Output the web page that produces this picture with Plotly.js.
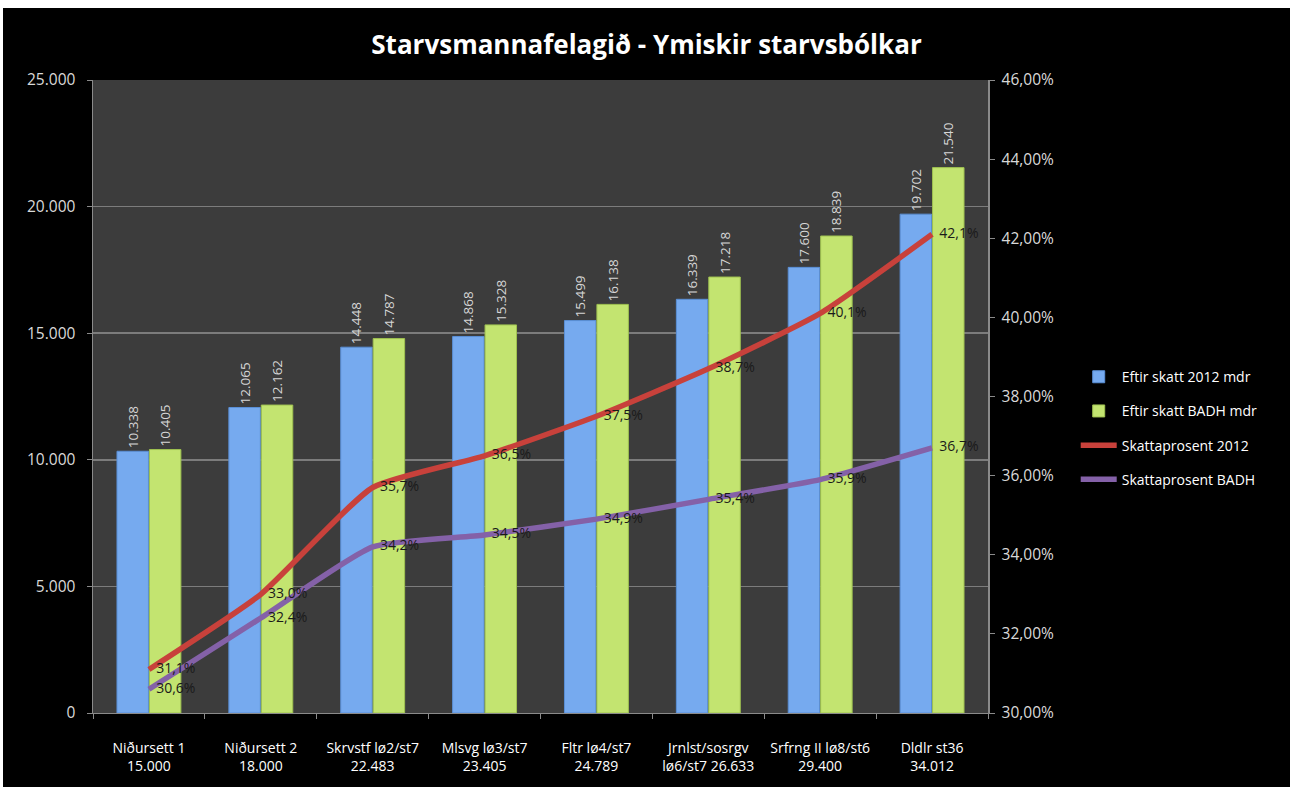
<!DOCTYPE html>
<html>
<head>
<meta charset="utf-8">
<script src="https://cdn.plot.ly/plotly-3.0.1.min.js"></script>
<style>
html,body{margin:0;padding:0;background:#ffffff;overflow:hidden;}
#chart{position:absolute;left:3px;top:8px;width:1287px;height:779px;background:#000;}
</style>
</head>
<body>
<div id="chart"></div>
<script>
var categories = [
  "Niðursett 1<br>15.000",
  "Niðursett 2<br>18.000",
  "Skrvstf lø2/st7<br>22.483",
  "Mlsvg lø3/st7<br>23.405",
  "Fltr lø4/st7<br>24.789",
  "Jrnlst/sosrgv<br>lø6/st7 26.633",
  "Srfrng II lø8/st6<br>29.400",
  "Dldlr st36<br>34.012"
];
var eftirSkatt2012 = [10338, 12065, 14448, 14868, 15499, 16339, 17600, 19702];
var eftirSkattBADH = [10405, 12162, 14787, 15328, 16138, 17218, 18839, 21540];
var skattaprosent2012 = [0.311, 0.330, 0.357, 0.365, 0.375, 0.387, 0.401, 0.421];
var skattaprosentBADH = [0.306, 0.324, 0.342, 0.345, 0.349, 0.354, 0.359, 0.367];

var fontFam = "Open Sans, Noto Sans, sans-serif";

function lineLabels(vals, grp) {
  return {
    type: "scatter", mode: "text", x: categories, y: vals, yaxis: "y2",
    showlegend: false, legendgroup: grp, hoverinfo: "skip",
    texttemplate: "\u00a0\u00a0%{y:.1%}", textposition: "middle right", cliponaxis: false,
    textfont: {color: "#1a1a1a", size: 14, family: fontFam}
  };
}

var traces = [
  {
    type: "bar", name: "Eftir skatt 2012 mdr", x: categories, y: eftirSkatt2012,
    legendgroup: "a",
    marker: {color: "#76aaef", line: {color: "#5a8fd6", width: 1}},
    text: eftirSkatt2012, texttemplate: "%{y:,}", textposition: "outside",
    textangle: -90, constraintext: "none", cliponaxis: false,
    textfont: {color: "#d6d6d6", size: 13.5, family: fontFam}
  },
  {
    type: "bar", name: "Eftir skatt BADH mdr", x: categories, y: eftirSkattBADH,
    legendgroup: "b",
    marker: {color: "#c3e470", line: {color: "#9fc250", width: 1}},
    text: eftirSkattBADH, texttemplate: "%{y:,}", textposition: "outside",
    textangle: -90, constraintext: "none", cliponaxis: false,
    textfont: {color: "#d6d6d6", size: 13.5, family: fontFam}
  },
  {
    type: "scatter", mode: "lines", name: "Skattaprosent 2012",
    x: categories, y: skattaprosent2012, yaxis: "y2", legendgroup: "c",
    line: {color: "#c8413b", width: 5.5, shape: "spline", smoothing: 0.5}
  },
  {
    type: "scatter", mode: "lines", name: "Skattaprosent BADH",
    x: categories, y: skattaprosentBADH, yaxis: "y2", legendgroup: "d",
    line: {color: "#8461a8", width: 5.5, shape: "spline", smoothing: 0.5}
  },
  lineLabels(skattaprosent2012, "c"),
  lineLabels(skattaprosentBADH, "d")
];

var layout = {
  width: 1287, height: 779,
  separators: ",.",
  paper_bgcolor: "#000000",
  plot_bgcolor: "#3c3c3c",
  font: {family: fontFam, color: "#ffffff"},
  margin: {l: 90, r: 302, t: 72, b: 74},
  title: {
    text: "<b>Starvsmannafelagið - Ymiskir starvsbólkar</b>",
    x: 0.5, xref: "container", xanchor: "center",
    y: 0.953, yref: "container", yanchor: "middle",
    font: {size: 26, color: "#ffffff", family: fontFam}
  },
  barmode: "group",
  bargap: 0.42,
  bargroupgap: 0.03,
  showlegend: true,
  legend: {
    x: 1.098, xanchor: "left", y: 0.45, yanchor: "middle",
    font: {size: 14, color: "#ffffff", family: fontFam},
    bgcolor: "rgba(0,0,0,0)",
    tracegroupgap: 13,
    itemwidth: 36
  },
  xaxis: {
    type: "category",
    showgrid: false,
    showline: true, linecolor: "#8a8a8a", linewidth: 1,
    ticks: "outside", tickson: "boundaries", ticklen: 5, tickcolor: "#8a8a8a",
    tickfont: {size: 14, color: "#ffffff", family: fontFam},
    ticklabelstandoff: 22,
    fixedrange: true
  },
  yaxis: {
    range: [0, 25000], dtick: 5000, tick0: 0,
    tickformat: ",d",
    showgrid: true, gridcolor: "#7c7c7c", gridwidth: 1.5,
    zeroline: false,
    showline: true, linecolor: "#8a8a8a", linewidth: 1.5,
    ticks: "outside", ticklen: 5, tickcolor: "#8a8a8a",
    tickfont: {size: 15.5, color: "#d9d9d9", family: fontFam},
    ticklabelstandoff: 8
  },
  yaxis2: {
    overlaying: "y", side: "right",
    range: [0.30, 0.46], dtick: 0.02, tick0: 0.30,
    tickformat: ".2%",
    showgrid: false, zeroline: false,
    showline: true, linecolor: "#8a8a8a", linewidth: 1.5,
    ticks: "outside", ticklen: 5, tickcolor: "#8a8a8a",
    tickfont: {size: 15.5, color: "#d9d9d9", family: fontFam},
    ticklabelstandoff: 4
  }
};

Plotly.newPlot("chart", traces, layout, {displayModeBar: false, staticPlot: true});
</script>
</body>
</html>
